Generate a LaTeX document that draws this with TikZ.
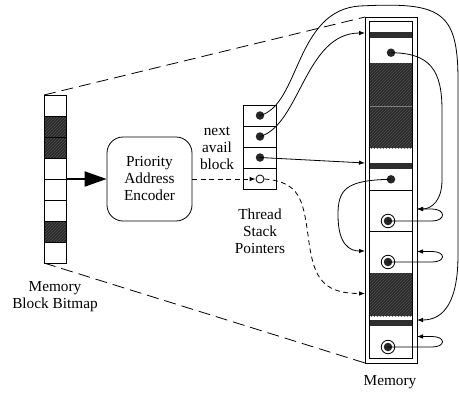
\documentclass[tikz,border=0pt]{standalone}
\usepackage{fontspec}
\setmainfont{Liberation Serif}
\usetikzlibrary{arrows.meta,patterns}
\begin{document}
\begin{tikzpicture}[x=1pt,y=-1pt,
  lbl/.style={font=\fontsize{15.3}{17}\selectfont, align=center, inner sep=0pt},
  thin/.style={line width=0.8pt},
  hatchcell/.style={fill=black!84, postaction={pattern=north east lines, pattern color=black!68}},
  bar/.style={fill=black!82},
  dotn/.style={circle, fill=black!85, minimum size=8.5pt, inner sep=0pt},
  odot/.style={circle, draw, fill=white, minimum size=8pt, inner sep=0pt, line width=0.8pt},
  ring/.style={circle, draw, fill=white, line width=0.8pt, minimum size=13.5pt, inner sep=0pt},
  ptr/.style={line width=0.8pt, -{Latex[length=6pt,width=4.5pt]}},
  bigdash/.style={line width=0.8pt, dash pattern=on 12pt off 6pt},
  smalldash/.style={line width=0.8pt, dash pattern=on 5pt off 3.5pt}
]
\useasboundingbox (0,0) rectangle (459,394);

% ---------- bitmap ----------
\foreach \i in {1,2,6} {
  \path[hatchcell] (44,{95+21*\i}) rectangle (66,{116+21*\i});
}
\foreach \i in {0,...,7} {
  \draw[thin] (44,{95+21*\i}) rectangle (66,{116+21*\i});
}
\node[minimum width=22pt, minimum height=168pt, inner sep=0pt, outer sep=0pt] (bm) at (55,179) {};
\node[lbl] (bml) at (55,297) {Memory\\Block Bitmap};

% ---------- encoder ----------
\node[draw, thin, rounded corners=16pt, minimum width=85pt, minimum height=84pt, lbl] (enc) at (149.5,179) {Priority\\Address\\Encoder};
\draw[line width=2pt, -{Triangle[length=22pt,width=15pt]}] (bm.east) -- (enc.west);

% ---------- thread stack pointers ----------
\node[draw, thin, minimum width=33pt, minimum height=84pt, inner sep=0pt, outer sep=0pt] (tsp) at (259.5,147) {};
\foreach \y in {126,147,168} { \draw[thin] (243,\y) -- (276,\y); }
\node[dotn] (t1) at (260,115.5) {};
\node[dotn] (t2) at (260,136.5) {};
\node[dotn] (t3) at (260,157.5) {};
\node[odot] (t4) at (260,179) {};
\node[lbl] (nab) at (217,148) {next\\avail\\block};
\node[lbl] (tspl) at (260,231) {Thread\\Stack\\Pointers};

% ---------- memory ----------
\node[draw, thin, minimum width=52pt, minimum height=346pt, inner sep=0pt, outer sep=0pt] (mem) at (391,190) {};
\fill[bar] (369.5,32) rectangle (412.5,37.5);
\path[hatchcell] (369.5,63) rectangle (412.5,148);
\draw[black!50, thin] (369.5,106) -- (412.5,106);
\fill[bar] (369.5,163) rectangle (412.5,168.5);
\path[hatchcell] (369.5,273) rectangle (412.5,316);
\fill[bar] (369.5,320) rectangle (412.5,326);
\draw[thin] (369.5,190) -- (412.5,190);
\draw[thin] (369.5,231) -- (412.5,231);
\draw[thin] (369.5,21.5) rectangle (412.5,358.5);
\node[lbl] (meml) at (390,382) {Memory};

\node[dotn] (m1) at (391,52.7) {};
\node[dotn] (m2) at (391,179.3) {};
\node[ring] (r1) at (388,221) {};
\node[dotn] (r1d) at (r1) {};
\node[ring] (r2) at (388,262) {};
\node[dotn] (r2d) at (r2) {};
\node[ring] (r3) at (388,347) {};
\node[dotn] (r3d) at (r3) {};

% arrow targets on the memory border
\coordinate (a1) at (365,33);
\coordinate (a2) at (365,163);
\coordinate (a3) at (365,251);
\coordinate (a4) at (365,293.5);
\coordinate (b1) at (417,209);
\coordinate (b2) at (417,251.5);
\coordinate (b3) at (417,320);
\coordinate (b4) at (417,336.5);

% ---------- outline dashes ----------
\draw[bigdash] (bm.north west) -- (mem.north west);
\draw[bigdash] (bm.south west) -- (mem.south west);

% ---------- connectors ----------
\draw[ptr] (t1.center) .. controls (300,105) and (295,10) .. (360,6)
  .. controls (440,2) and (458,10) .. (458,80) -- (458,255)
  .. controls (458,300) and (445,320) .. (b3);
\draw[ptr] (t2.center) .. controls (300,125) and (305,33) .. (a1);
\draw[ptr] (t3.center) -- (a2);
\draw[smalldash, -{Latex[length=6pt,width=4.5pt]}] (enc.east) -- (t4.west);
\draw[smalldash, -{Latex[length=6pt,width=4.5pt]}] (t4.east) .. controls (300,182) and (303,200) .. (308,235)
  .. controls (313,275) and (320,293.5) .. (a4);
\draw[ptr] (m1.center) .. controls (430,53) and (442,70) .. (442,110) -- (442,180)
  .. controls (442,200) and (432,209) .. (b1);
\draw[ptr] (m2.center) .. controls (345,180) and (338,190) .. (338,215)
  .. controls (338,245) and (350,251) .. (a3);
\draw[ptr] (r1.center) -- (432,221) .. controls (446,221) and (446,209) .. (432,209) -- (b1);
\draw[ptr] (r2.center) -- (432,262) .. controls (446,262) and (446,251.5) .. (432,251.5) -- (b2);
\draw[ptr] (r3.center) -- (432,347) .. controls (446,347) and (446,336.5) .. (432,336.5) -- (b4);
\end{tikzpicture}
\end{document}
